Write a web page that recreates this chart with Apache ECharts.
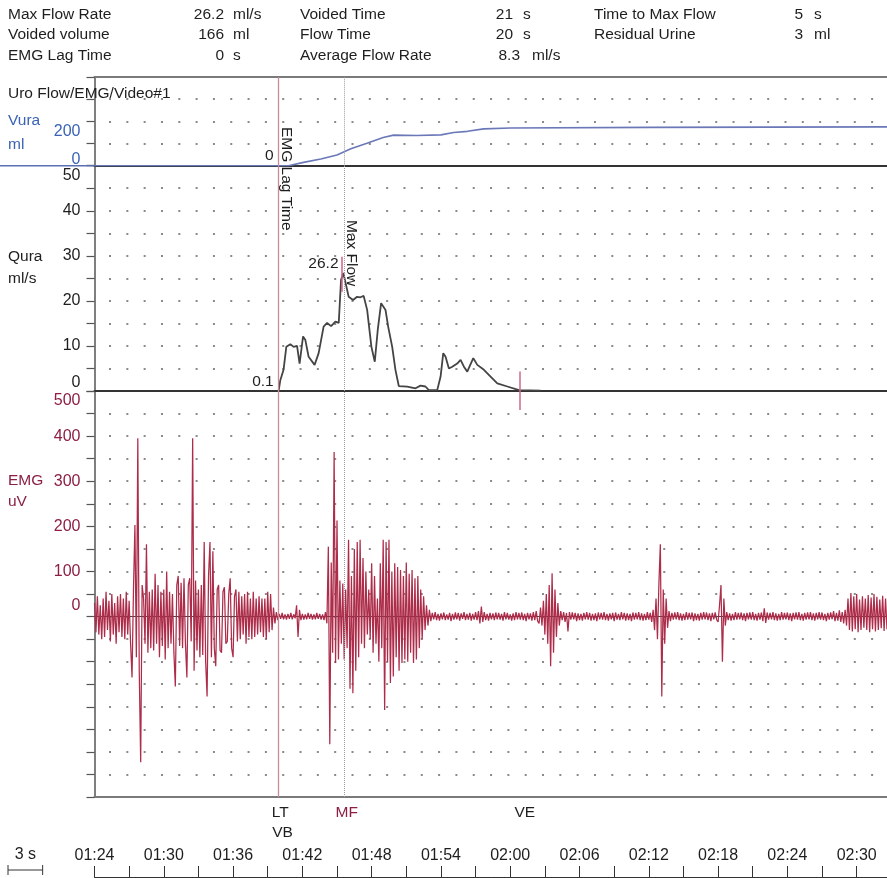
<!DOCTYPE html>
<html><head><meta charset="utf-8">
<script src="https://cdn.jsdelivr.net/npm/echarts/dist/echarts.min.js"></script>
<style>html,body{margin:0;padding:0;background:#fff}#c{width:887px;height:878px}</style>
</head><body><div id="c"></div>
<script>
// ---------------- data ----------------
const statLabels = ['Max Flow Rate','Voided volume','EMG Lag Time','Voided Time','Flow Time','Average Flow Rate','Time to Max Flow','Residual Urine'];
const statValues = ['26.2','166','0','21','20','8.3','5','3'];
const statUnits  = ['ml/s','ml','s','s','s','ml/s','s','ml'];

const timeTickLabels = ['01:24','01:30','01:36','01:42','01:48','01:54','02:00','02:06','02:12','02:18','02:24','02:30'];
const vuraTickLabels = ['0','200'];
const quraTickLabels = ['0','10','20','30','40','50'];
const emgTickLabels  = ['0','100','200','300','400','500'];

// event times (s)
const lagT = 99.95, mfT = 105.65, veT = 120.8;
const lagVura = '0', lagQura = '0.1', maxFlowLabel = '26.2', maxFlowVal = 26.2;

// Vura (ml) vs time (s)
const vuraT = [84, 100.8, 102.1, 103.6, 105.0, 106.2, 107.6, 109.0, 109.9, 111.9, 114.0, 115.1, 116.3, 117.7, 120.0, 132.2, 152.8];
const vuraV = [0, 0, 15, 30, 48, 76, 101, 127, 138, 136, 139, 150, 155, 166, 170, 173, 175];

// Qura (ml/s) vs time (s)
const quraT = [99.95,100.09,100.37,100.61,100.96,101.24,101.54,101.76,102.06,102.26,102.54,103.06,103.41,103.84,104.14,104.49,104.86,105.15,105.35,105.55,105.75,106.01,106.39,106.74,107.03,107.31,107.61,107.98,108.27,108.53,108.82,109.20,109.43,109.78,110.06,110.35,111.08,111.80,112.23,112.66,112.95,113.68,113.97,114.20,114.40,114.69,114.98,115.41,115.70,115.99,116.28,116.80,117.15,117.72,118.30,118.88,119.75,120.76,122.64];
const quraV = [0.1,2.4,4.7,9.8,10.4,9.8,10,6.1,12.1,11.3,7.6,5.8,8.4,14.3,15.1,14.4,15.4,15.1,24.7,26.2,23.9,20.9,20.2,20.9,20.8,21.1,18,9.8,6.5,13.6,19.5,18,14.3,9.8,4.7,1.1,0.96,0.6,1.2,1,0.2,0.2,3.2,8.4,7.6,5,5.4,6.1,6.9,5.4,4.3,7.3,5.8,4.7,3.2,1.7,1,0.2,0.1];

// EMG (uV), one sample every 0.125 s from 84 s
const emgStart = 84, emgStep = 0.125;
const emgVals = [
30,-35,45,-40,25,-50,40,-45,55,-30,35,-55,50,-40,30,-60,45,-35,50,-45,
40,-50,55,-40,35,-60,-135,60,203,-90,395,-120,-323,70,40,-60,160,-80,55,-70,
60,-75,95,-60,70,-90,55,-65,60,-95,100,-70,55,-60,50,-80,-155,70,90,-65,
75,-70,85,-60,-135,70,85,-55,395,-120,80,-75,60,-90,70,-85,165,-100,-177,90,
165,-90,145,-70,-110,60,70,-75,-80,55,65,-60,-55,50,85,-70,-90,45,60,-55,
55,-50,45,-40,50,-60,55,-45,40,-50,55,-45,40,-40,45,-35,40,-45,40,-50,
55,-35,50,-30,20,-15,10,-8,6,-5,8,-6,5,-7,6,-5,8,-6,5,-4,
25,-45,15,-8,6,-7,5,-6,8,-5,6,-7,5,-6,8,-5,6,-7,5,-8,
10,-15,155,-283,120,-80,365,-103,213,-95,80,-60,73,-95,60,-70,170,-160,90,-170,
150,-120,165,-90,170,-60,130,-70,100,-40,60,-50,118,-80,90,-60,40,-100,118,-70,
170,-207,165,-100,170,-147,100,-133,118,-90,110,-120,103,-103,90,-95,120,-100,95,-80,
103,-103,85,-95,90,-70,60,-50,45,-30,25,-20,15,-10,8,-6,10,-8,6,-9,
7,-6,9,-8,5,-7,8,-10,6,-7,9,-6,8,-9,7,-5,10,-8,6,-7,
8,-9,6,-7,10,-8,12,-15,22,-12,10,-8,6,-9,8,-6,7,-8,9,-6,
8,-7,6,-9,10,-6,8,-7,5,-9,7,-8,10,-6,8,-7,9,-8,6,-10,
8,-6,7,-9,10,-8,12,-10,-15,20,-20,35,-40,50,-60,70,-110,96,-80,60,
-45,30,-20,12,-8,10,-12,8,-33,10,-7,9,-6,8,-10,7,-8,6,-9,8,
-6,10,-7,8,-9,6,-8,7,-10,9,-6,8,-7,10,-8,6,-9,7,-6,8,
-10,9,-7,6,-8,10,-6,8,-9,7,-8,6,-10,9,-7,8,-6,10,-8,7,
-9,6,-8,10,-7,8,-12,15,-30,40,-50,73,160,-177,60,-60,40,-25,12,-10,
8,-7,9,-6,10,-8,7,-9,6,-8,10,-7,8,-6,9,-10,7,-8,6,-9,
8,-7,10,-6,9,-8,7,-10,8,-6,9,-7,-12,25,70,-100,40,-20,10,-8,
7,-9,6,-8,10,-7,8,-6,9,-8,7,-10,8,-6,9,-7,10,-8,6,-9,
8,-7,9,-10,18,-14,9,-7,8,-6,10,-8,7,-9,6,-8,10,-7,8,-6,
9,-8,7,-10,8,-6,9,-7,10,-8,6,-9,8,-7,9,-6,10,-8,7,-9,
8,-6,10,-7,9,-8,6,-10,8,-7,9,-6,12,-10,8,-9,14,-12,10,-15,
15,-20,40,-30,52,-33,45,-28,50,-35,38,-30,45,-25,40,-30,48,-35,42,-28,
50,-33,44,-30,38,-26,46,-32,40,-28,35,-25
];

// ---------------- style / layout ----------------
const FONT = "'Liberation Sans', Arial, Helvetica, sans-serif";
const BLUE = '#3a63b5', MAROON = '#8c1f42', DARK = '#1e1e1e';
const tMin = 84, tMax = 152.8;
const GL = 94.5, GR = -2;
const dotStyle = {color: '#8a8a8a', width: 2, type: [2, 15.32], dashOffset: 2.8};
const ltStyle = {color: '#c98a98', width: 1.3, type: 'solid'};
const mfStyle = {color: '#9c9c9c', width: 1, type: 'dotted'};
const veStyle = {color: '#cc6a8a', width: 1.5, type: 'solid'};

const chart = echarts.init(document.getElementById('c'));

function xBase(grid, extra) {
  return Object.assign({
    type: 'value', gridIndex: grid, min: tMin, max: tMax,
    axisLabel: {show: false}, axisTick: {show: false}, splitLine: {show: false}
  }, extra);
}
function yLabelFmt(list, up, dn) {
  return function (v) {
    const s = String(v);
    if (list.indexOf(s) < 0) return '';
    if (s === up) return '{up|' + s + '}';
    if (s === dn) return '{dn|' + s + '}';
    return s;
  };
}
function yBase(grid, min, max, interval, color, fmt, upPad, dnPad) {
  return {
    type: 'value', gridIndex: grid, min: min, max: max, interval: interval,
    axisLine: {show: true, onZero: false, lineStyle: {color: '#555', width: 1.5}},
    axisTick: {show: true, length: 8, lineStyle: {color: '#555', width: 1.2}},
    axisLabel: {show: true, color: color, fontSize: 16, fontFamily: FONT, margin: 14, formatter: fmt,
      rich: {up: {padding: [0, 0, upPad, 0], color: color, fontSize: 16, fontFamily: FONT},
             dn: {padding: [dnPad, 0, 0, 0], color: color, fontSize: 16, fontFamily: FONT}}},
    splitLine: {show: true, lineStyle: dotStyle}
  };
}
const mkBase = {symbol: ['none', 'none'], silent: true, animation: false, label: {show: false}};

const option = {
  animation: false,
  backgroundColor: '#fff',
  grid: [
    {left: GL, right: GR, top: 77, height: 88.7, outerBoundsMode: 'none', containLabel: false},
    {left: GL, right: GR, top: 165.7, height: 225.3, outerBoundsMode: 'none', containLabel: false},
    {left: GL, right: GR, top: 391, height: 406, outerBoundsMode: 'none', containLabel: false},
    {left: GL, right: GR, top: 860, height: 17, outerBoundsMode: 'none', containLabel: false}
  ],
  xAxis: [
    xBase(0, {position: 'bottom', axisLine: {show: true, onZero: false, lineStyle: {color: '#333', width: 2}}}),
    xBase(0, {position: 'top', axisLine: {show: true, onZero: false, lineStyle: {color: '#7a7a7a', width: 2}}}),
    xBase(1, {position: 'bottom', axisLine: {show: true, onZero: false, lineStyle: {color: '#333', width: 2}}}),
    xBase(2, {position: 'bottom', axisLine: {show: true, onZero: true, lineStyle: {color: '#444', width: 1}}}),
    xBase(2, {position: 'bottom', axisLine: {show: true, onZero: false, lineStyle: {color: '#7a7a7a', width: 2}}}),
    xBase(3, {position: 'bottom', interval: 3,
      axisLine: {show: true, onZero: false, lineStyle: {color: '#333', width: 1}},
      axisTick: {show: true, inside: true, length: 11, lineStyle: {color: '#333', width: 1}},
      axisLabel: {show: true, inside: true, margin: 13, color: DARK, fontSize: 16, fontFamily: FONT,
        showMaxLabel: false,
        formatter: function (v) {
          const r = Math.round(v);
          if (Math.abs(v - r) > 1e-6 || (r - tMin) % 6 !== 0) return '';
          return timeTickLabels[(r - tMin) / 6] || '';
        }}})
  ],
  yAxis: [
    yBase(0, 0, 400, 100, BLUE, yLabelFmt(vuraTickLabels, '0', '200'), 12, 20),
    yBase(1, 0, 50, 5, DARK, yLabelFmt(quraTickLabels, '0', '50'), 16, 20),
    yBase(2, -400, 500, 50, MAROON, yLabelFmt(emgTickLabels, '0', '500'), 22, 20),
    {type: 'value', gridIndex: 3, min: 0, max: 1, show: false}
  ],
  series: [
    {
      name: 'Vura', type: 'line', xAxisIndex: 0, yAxisIndex: 0, showSymbol: false, silent: true,
      lineStyle: {color: '#6a78b8', width: 1.6}, itemStyle: {color: '#6a78b8'},
      data: vuraT.map((t, i) => [t, vuraV[i]]), z: 3,
      markLine: Object.assign({data: [
        {xAxis: lagT, lineStyle: ltStyle},
        {xAxis: mfT, lineStyle: mfStyle}
      ]}, mkBase)
    },
    {
      name: 'Qura', type: 'line', xAxisIndex: 2, yAxisIndex: 1, showSymbol: false, silent: true,
      lineStyle: {color: '#444', width: 1.8}, itemStyle: {color: '#444'},
      data: quraT.map((t, i) => [t, quraV[i]]), z: 3,
      markLine: Object.assign({data: [
        {xAxis: lagT, lineStyle: ltStyle},
        {xAxis: mfT, lineStyle: mfStyle},
        [{coord: [veT, 0], lineStyle: veStyle}, {coord: [veT, 4.3]}],
        [{coord: [mfT - 0.2, 22], lineStyle: {color: '#d0628a', width: 1.5, type: 'solid'}}, {coord: [mfT - 0.2, 29.8]}]
      ]}, mkBase)
    },
    {
      name: 'EMG', type: 'line', xAxisIndex: 3, yAxisIndex: 2, showSymbol: false, silent: true,
      lineStyle: {color: '#ad2c49', width: 1.25}, itemStyle: {color: '#ad2c49'},
      data: emgVals.map((v, i) => [emgStart + i * emgStep, v]), z: 3,
      markLine: Object.assign({data: [
        {xAxis: lagT, lineStyle: ltStyle},
        {xAxis: mfT, lineStyle: mfStyle},
        [{coord: [veT, 500], lineStyle: veStyle}, {coord: [veT, 458]}]
      ]}, mkBase)
    }
  ]
};
chart.setOption(option);

// ---------------- annotations ----------------
function txt(text, x, y, o) {
  o = o || {};
  const el = {type: 'text', x: x, y: y, silent: true, z: 100,
    style: {text: text, x: 0, y: 0, fill: o.fill || DARK, fontSize: o.size || 15.5, fontFamily: FONT,
            align: o.align || 'left', verticalAlign: 'middle'}};
  if (o.rot != null) el.rotation = o.rot;
  return el;
}
const P = (xi, yi, t, v) => chart.convertToPixel({xAxisIndex: xi, yAxisIndex: yi}, [t, v]);
const g = [];

// header table
const statCol = [0,0,0,1,1,1,2,2], statRow = [0,1,2,0,1,2,0,1];
const colLabelX = [8, 300, 594];
const valueRight = [224,224,224,513,513,520,803,803];
const unitX = [233,233,233,523,523,532,814,814];
const rowY = [15, 35, 55.5];
statLabels.forEach((s, i) => {
  const y = rowY[statRow[i]];
  g.push(txt(s, colLabelX[statCol[i]], y));
  g.push(txt(statValues[i], valueRight[i], y, {align: 'right'}));
  g.push(txt(statUnits[i], unitX[i], y));
});

// panel titles
g.push(txt('Uro Flow/EMG/Video#1', 8, 94));
g.push(txt('Vura', 8, 121, {fill: BLUE}));
g.push(txt('ml', 8, 145, {fill: BLUE}));
g.push(txt('Qura', 8, 257));
g.push(txt('ml/s', 8, 278.5));
g.push(txt('EMG', 8, 480.5, {fill: MAROON}));
g.push(txt('uV', 8, 502, {fill: MAROON}));

// blue Vura baseline extension left of the frame
const v0 = P(0, 0, tMin, 0);
g.push({type: 'line', silent: true, z: 5, shape: {x1: 0, y1: v0[1], x2: v0[0], y2: v0[1]},
        style: {stroke: '#5b6fb5', lineWidth: 1.5}});

// event annotations
const lt0 = P(0, 0, lagT, 0);
const ltQ = P(2, 1, lagT, 0.1);
const mfQ = P(2, 1, mfT, maxFlowVal);
const veQ = P(2, 1, veT, 0);
g.push(txt('EMG Lag Time', lt0[0] + 7.5, 127, {rot: -Math.PI / 2}));
g.push(txt(lagVura, lt0[0] - 5, lt0[1] - 10, {align: 'right'}));
g.push(txt(lagQura, ltQ[0] - 5, ltQ[1] - 9, {align: 'right'}));
g.push(txt('Max Flow', mfQ[0] + 7, 220, {rot: -Math.PI / 2}));
g.push(txt(maxFlowLabel, mfQ[0] - 6, mfQ[1] - 9.5, {align: 'right'}));
g.push(txt('LT', lt0[0] - 7, 813));
g.push(txt('VB', lt0[0] - 6.5, 833));
g.push(txt('MF', mfQ[0] - 9, 813, {fill: MAROON}));
g.push(txt('VE', veQ[0] - 5, 813));

// 3 s scale bar
const r0 = P(5, 3, tMin, 0), r3 = P(5, 3, tMin + 3, 0);
const w3 = r3[0] - r0[0];
const sx = 8, sy = 870;
g.push({type: 'line', silent: true, shape: {x1: sx, y1: sy, x2: sx + w3, y2: sy}, style: {stroke: '#333', lineWidth: 1}});
g.push({type: 'line', silent: true, shape: {x1: sx, y1: sy - 5, x2: sx, y2: sy + 5}, style: {stroke: '#333', lineWidth: 1}});
g.push({type: 'line', silent: true, shape: {x1: sx + w3, y1: sy - 5, x2: sx + w3, y2: sy + 5}, style: {stroke: '#333', lineWidth: 1}});
g.push(txt('3 s', sx + w3 / 2, 855, {align: 'center', size: 16}));

chart.setOption({graphic: g});
</script>
</body></html>
